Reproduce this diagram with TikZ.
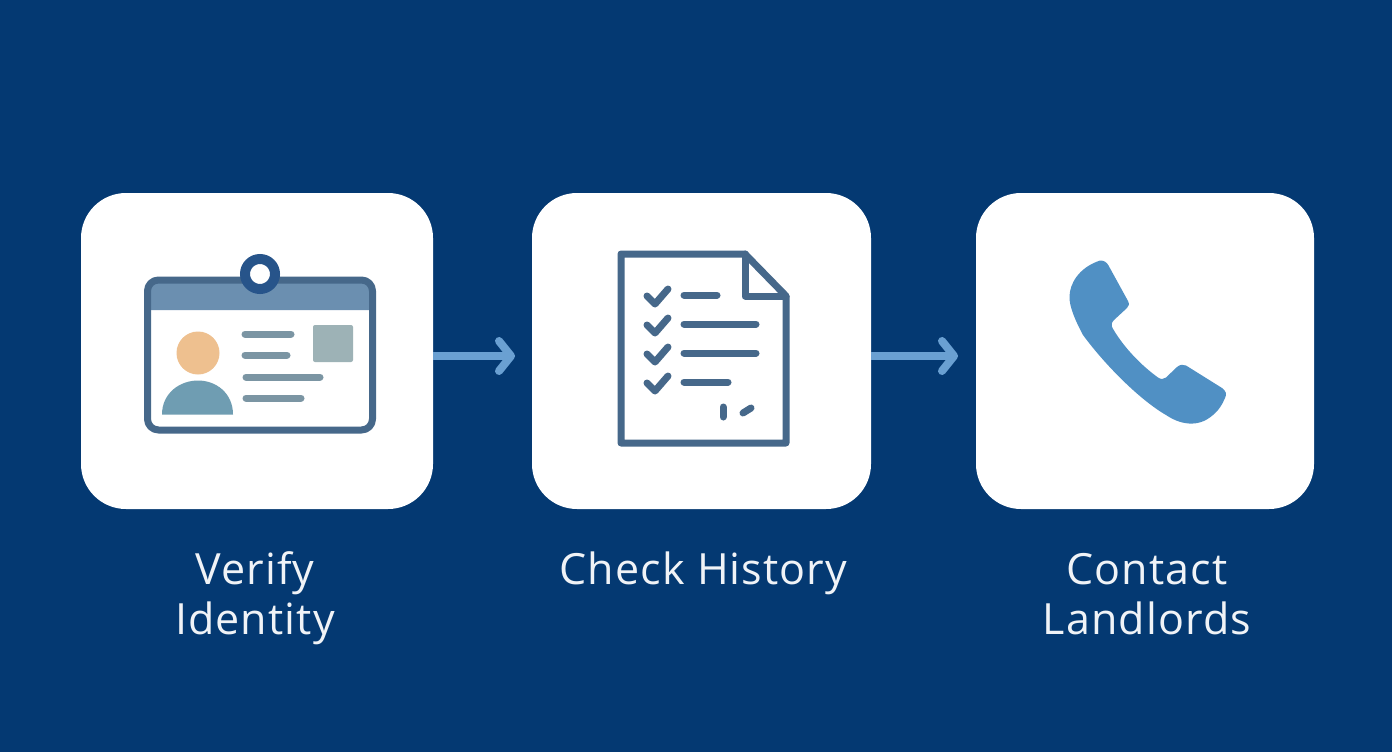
\documentclass[tikz,border=0pt]{standalone}
\usepackage{xcolor}
\usepackage{fontspec}
\setmainfont[LetterSpace=2.6]{Open Sans}
\usetikzlibrary{arrows.meta,positioning}
\definecolor{bgblue}{HTML}{043972}
\definecolor{arrowblue}{HTML}{6AA0D2}
\definecolor{inkblue}{HTML}{46688A}
\definecolor{clipblue}{HTML}{27548A}
\definecolor{bandblue}{HTML}{6B8FB0}
\definecolor{skin}{HTML}{EEC08F}
\definecolor{bodyteal}{HTML}{6F9DB2}
\definecolor{rowgrey}{HTML}{7B95A3}
\definecolor{photogrey}{HTML}{9DB2B6}
\definecolor{phoneblue}{HTML}{5090C4}

\begin{document}
\begin{tikzpicture}[x=1pt,y=-1pt,
  card/.style = {fill=white, rounded corners=45pt, minimum height=316pt},
  caption/.style = {text=white!94!bgblue, font=\fontsize{43}{50}\selectfont, align=center, inner sep=0pt},
  flow/.style = {draw=arrowblue, line width=8pt, line join=round, -{Straight Barb[length=12pt,width=30pt,round]}},
  inkline/.style = {draw=inkblue, line width=7pt, line cap=round, line join=round},
  rowline/.style = {draw=rowgrey, line width=7pt, line cap=round}]
\useasboundingbox (0,0) rectangle (1392,752);
\fill[bgblue] (0,0) rectangle (1392,752);

\node[card, minimum width=352pt] (verify) at (257,351) {};
\node[card, minimum width=339pt] (history) at (701.5,351) {};
\node[card, minimum width=338pt] (contact) at (1145,351) {};

\node[caption, below=40pt of verify, xshift=-2pt] (verifytext) {\strut Verify\\Identity};
\node[caption, below=40pt of history, xshift=2pt] (historytext) {\strut Check History};
\node[caption, below=40pt of contact, xshift=2pt] (contacttext) {\strut Contact\\Landlords};

\coordinate (tipa) at (515,356);
\coordinate (tipb) at (958,356);
\draw[flow] (verify.east |- tipa) -- (tipa);
\draw[flow] (history.east |- tipb) -- (tipb);

% id card
\fill[bandblue] (147,310) -- (147,290) arc[start angle=180,end angle=270,radius=10] -- (363,280) arc[start angle=270,end angle=360,radius=10] -- (373,310) -- cycle;
\draw[inkline, rounded corners=11pt] (147.5,280) rectangle (372.5,430);
\draw[clipblue, line width=10pt, fill=white] (260,274) circle (15pt);
\fill[skin] (198,353) circle (21.5pt);
\fill[bodyteal] (162,414.5) .. controls (162,393) and (180,380.5) .. (198,380.5) .. controls (216,380.5) and (233,393) .. (233,414.5) -- cycle;
\draw[rowline] (245,334) -- (291,334);
\draw[rowline] (245,355) -- (287,355);
\draw[rowline] (246,377) -- (320,377);
\draw[rowline] (246,398) -- (301,398);
\fill[photogrey, rounded corners=2pt] (313,325) rectangle (353,362);

% checklist
\draw[inkline] (621,254) -- (745,254) -- (786,296) -- (786,443) -- (621,443) -- cycle;
\draw[inkline] (745,254) -- (745,296) -- (786,296);
\foreach \row/\len in {295/717, 324/756, 353/756, 382/728} {
  \draw[inkline] (647,\row+1) -- (655,\row+9) -- (668,\row-6);
  \draw[inkline] (684,\row) -- (\len,\row);
}
\draw[inkline] (723,407) -- (723,417);
\draw[inkline] (743,413) -- (751,408);

% phone
\fill[phoneblue] (1100,260.5) .. controls (1104,260.5) and (1106.5,262) .. (1108.5,265.5)
  -- (1128,301) .. controls (1129.5,304) and (1129,306) .. (1127,308)
  -- (1114,320) .. controls (1111.5,322.5) and (1111,325) .. (1112.5,328)
  .. controls (1124,348) and (1142,366) .. (1158,377.5)
  .. controls (1161,379.5) and (1163.5,379.5) .. (1166,377.5)
  -- (1177,367) .. controls (1180,364.5) and (1183,364) .. (1186,365.5)
  -- (1222,388) .. controls (1226,391) and (1227,394) .. (1225,398)
  .. controls (1222,405) and (1219,410) .. (1213,415)
  .. controls (1205,422) and (1197,424) .. (1189,423.5)
  .. controls (1180,423) and (1172,419) .. (1166,415)
  .. controls (1140,400) and (1105,365) .. (1083,335)
  .. controls (1075,320) and (1069,306) .. (1069.5,296)
  .. controls (1070,284) and (1078,268) .. (1100,260.5) -- cycle;
\end{tikzpicture}
\end{document}
